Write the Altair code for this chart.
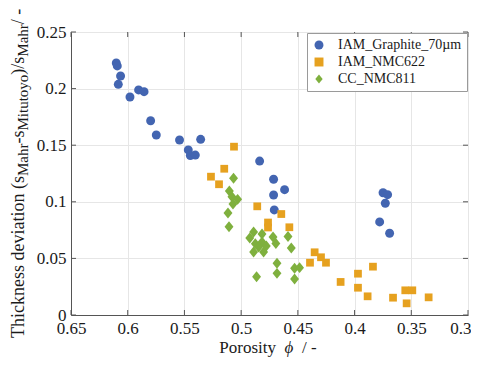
import altair as alt
import pandas as pd

series_names = ["IAM_Graphite_70µm", "IAM_NMC622", "CC_NMC811"]
series_colors = ["#4365b1", "#e6a11f", "#7fb03e"]

graphite_porosity = [0.6101, 0.6092, 0.6063, 0.6083, 0.5980, 0.5904, 0.5856, 0.5798,
                     0.5748, 0.5543, 0.5357, 0.5466, 0.5448, 0.5404, 0.4837, 0.4714,
                     0.4617, 0.4714, 0.4708, 0.3749, 0.3709, 0.3729, 0.3779, 0.3691]
graphite_dev = [0.2226, 0.2200, 0.2111, 0.2038, 0.1926, 0.1988, 0.1973, 0.1716,
                0.1590, 0.1546, 0.1552, 0.1458, 0.1409, 0.1413, 0.1360, 0.1199,
                0.1107, 0.1060, 0.0928, 0.1080, 0.1063, 0.0987, 0.0822, 0.0722]

nmc622_porosity = [0.5063, 0.5149, 0.5266, 0.5195, 0.4858, 0.4646, 0.4763, 0.4763,
                   0.4575, 0.4352, 0.4296, 0.4393, 0.4252, 0.3970, 0.3838, 0.4123,
                   0.3970, 0.3885, 0.3661, 0.3553, 0.3491, 0.3541, 0.3347]
nmc622_dev = [0.1487, 0.1292, 0.1222, 0.1155, 0.0960, 0.0892, 0.0817, 0.0773,
              0.0775, 0.0554, 0.0510, 0.0462, 0.0462, 0.0365, 0.0427, 0.0292,
              0.0241, 0.0165, 0.0153, 0.0218, 0.0218, 0.0103, 0.0156]

nmc811_porosity = [0.5067, 0.5104, 0.5081, 0.5031, 0.5072, 0.5116, 0.5107, 0.4890,
                   0.4816, 0.4875, 0.4816, 0.4890, 0.4802, 0.4846, 0.4719, 0.4694,
                   0.4587, 0.4558, 0.4684, 0.4684, 0.4864, 0.4529, 0.4485, 0.4529,
                   0.4924, 0.4778]
nmc811_dev = [0.1208, 0.1095, 0.1045, 0.1022, 0.0981, 0.0901, 0.0780, 0.0733,
              0.0716, 0.0630, 0.0645, 0.0557, 0.0557, 0.0601, 0.0689, 0.0632,
              0.0693, 0.0592, 0.0457, 0.0368, 0.0338, 0.0413, 0.0418, 0.0318,
              0.0680, 0.0610]

x_ticks = [0.3, 0.35, 0.4, 0.45, 0.5, 0.55, 0.6, 0.65]
y_ticks = [0, 0.05, 0.1, 0.15, 0.2, 0.25]

W, H = 397, 283
FONT = "Liberation Serif"
DIAMOND = "M0,-1L0.82,0L0,1L-0.82,0Z"
shapes = ["circle", "square", DIAMOND]
sizes = [80, 60, 118]

xscale = alt.Scale(domain=[0.3, 0.65], reverse=True, nice=False, zero=False)
yscale = alt.Scale(domain=[0, 0.25], nice=False, zero=False)

xaxis = alt.Axis(values=x_ticks, format="~g", title=None, grid=True,
                 ticks=False, labelPadding=5, labelFontSize=17,
                 labelFont=FONT, labelColor="#1a1a1a", domainColor="#555",
                 gridColor="#e6e6e6", labelFlush=False,
                 labelAlign={"condition": {"test": "datum.value < 0.31", "value": "right"},
                             "value": "center"},
                 labelOffset={"condition": {"test": "datum.value < 0.31", "value": 3},
                              "value": 0})
yaxis = alt.Axis(values=y_ticks, format="~g", title=None, grid=True,
                 ticks=False, labelPadding=5, labelFontSize=17,
                 labelFont=FONT, labelColor="#1a1a1a", domainColor="#555",
                 gridColor="#e6e6e6", labelFlush=False)
legend = alt.Legend(title=None, orient="top-right", offset=1,
                    labelFont=FONT, labelFontSize=14, labelColor="#1a1a1a",
                    fillColor="white", strokeColor="#9a9a9a",
                    padding=5, rowPadding=3, symbolSize=80,
                    symbolStrokeWidth=0, labelOffset=12)

layers = []
for name, xs, ys, sz in [(series_names[0], graphite_porosity, graphite_dev, sizes[0]),
                         (series_names[1], nmc622_porosity, nmc622_dev, sizes[1]),
                         (series_names[2], nmc811_porosity, nmc811_dev, sizes[2])]:
    d = pd.DataFrame({"series": name, "porosity": xs, "deviation": ys})
    layers.append(alt.Chart(d).mark_point(filled=True, opacity=1, size=sz).encode(
        x=alt.X("porosity:Q", scale=xscale, axis=xaxis),
        y=alt.Y("deviation:Q", scale=yscale, axis=yaxis),
        color=alt.Color("series:N", scale=alt.Scale(domain=series_names, range=series_colors),
                        legend=legend),
        shape=alt.Shape("series:N", scale=alt.Scale(domain=series_names, range=shapes),
                        legend=legend),
    ))

tick_len = 5
xt = pd.DataFrame({"v": x_ticks})
yt = pd.DataFrame({"v": y_ticks})
ticks = [
    alt.Chart(xt).mark_rule(color="#555").encode(
        x=alt.X("v:Q", scale=xscale), y=alt.value(H), y2=alt.value(H - tick_len)),
    alt.Chart(xt).mark_rule(color="#555").encode(
        x=alt.X("v:Q", scale=xscale), y=alt.value(0), y2=alt.value(tick_len)),
    alt.Chart(yt).mark_rule(color="#555").encode(
        y=alt.Y("v:Q", scale=yscale), x=alt.value(0), x2=alt.value(tick_len)),
    alt.Chart(yt).mark_rule(color="#555").encode(
        y=alt.Y("v:Q", scale=yscale), x=alt.value(W), x2=alt.value(W - tick_len)),
]

one = alt.Data(values=[{}])

def txt(s, x, y, size, angle=0, align="left", style="normal"):
    return alt.Chart(one).mark_text(
        text=s, font=FONT, fontSize=size, angle=angle, align=align,
        baseline="alphabetic", color="#1a1a1a", fontStyle=style
    ).encode(x=alt.value(x), y=alt.value(y))

# y-axis title pieces (rotated, reading bottom to top)
xm, xs_ = -47, -43
ytitle = [
    txt("Thickness deviation (s", xm, 306, 18, 270),
    txt("Mahr", xs_, 144, 15, 270),
    txt("-s", xm, 111.5, 18, 270),
    txt("Mitutoyo", xs_, 98.5, 15, 270),
    txt(")/s", xm, 42.7, 18, 270),
    txt("Mahr", xs_, 24.7, 15, 270),
    txt(" / -", xm, -7.8, 18, 270),
]
# x-axis title pieces
xtitle = [
    txt("Porosity", 205, 321, 17, 0, "right"),
    txt("ϕ", 218, 321, 17, 0, "center", "italic"),
    txt("/ -", 231, 321, 17, 0, "left"),
]

chart = alt.layer(*ticks, *layers, *ytitle, *xtitle).properties(
    width=W, height=H,
    autosize=alt.AutoSizeParams(type="none"),
    padding={"left": 63, "top": 24, "right": 3, "bottom": 42},
).configure_view(stroke="#555", strokeWidth=1).configure(background="white")

chart.save("out.html", embed_options={"renderer": "svg", "actions": False})
